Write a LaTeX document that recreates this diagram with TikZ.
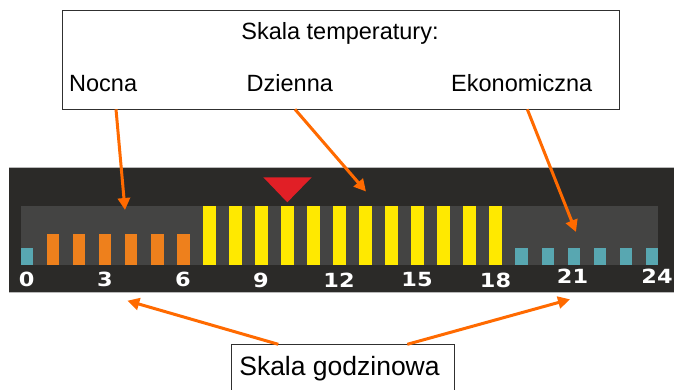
\documentclass[tikz,border=0pt]{standalone}
\usepackage{fontspec}
\usepackage{graphicx}
\setmainfont{Liberation Sans}
\newfontfamily\numfont{DejaVu Sans}
\usetikzlibrary{arrows.meta}
\definecolor{panelc}{HTML}{2B2A28}
\definecolor{innerc}{HTML}{444443}
\definecolor{barorange}{HTML}{EE801C}
\definecolor{baryellow}{HTML}{FFE900}
\definecolor{barcyan}{HTML}{58A7B1}
\definecolor{markc}{HTML}{E11F26}
\definecolor{arrowc}{HTML}{FF6A00}
\definecolor{boxline}{HTML}{303030}
\newcommand{\hnum}[1]{\scalebox{1.15}[1]{#1}}
\tikzset{
  labelbox/.style={draw=boxline, line width=1pt, inner sep=0pt},
  lbl/.style={inner sep=0pt, font=\fontsize{23.5}{28}\selectfont},
  num/.style={inner sep=0pt, text=white, font=\numfont\bfseries\fontsize{19.5}{22}\selectfont},
  arr/.style={draw=arrowc, line width=3pt, -{Triangle[length=12pt,width=12pt]}},
}
\begin{document}
\begin{tikzpicture}[x=1pt,y=-1pt]
\useasboundingbox (0,0) rectangle (674,389);
\fill[white] (0,0) rectangle (674,389);
% panel
\fill[panelc] (9,167) rectangle (674,293);
\draw[gray!55, line width=0.8pt] (9,167.4) -- (674,167.4);
\draw[gray!55, line width=0.8pt] (9,292.8) -- (674,292.8);
\fill[innerc] (21,206) rectangle (658,265);
% bars
\foreach \i in {0,...,24}{
  \pgfmathsetmacro{\xl}{20.7+26.04*\i}
  \ifnum\i=0
    \fill[barcyan] (\xl,248.3) rectangle ++(12.6,16.7);
  \else\ifnum\i<7
    \fill[barorange] (\xl,234.3) rectangle ++(12.6,30.7);
  \else\ifnum\i<19
    \fill[baryellow] (\xl,206) rectangle ++(12.6,59);
  \else
    \fill[barcyan] (\xl,248.3) rectangle ++(12.6,16.7);
  \fi\fi\fi
}
% red marker
\fill[markc] (263.3,177.3) -- (311.7,177.3) -- (287.3,202.3) -- cycle;
% hour numbers
\node[num] (n0) at (26.7,279.5) {\hnum{0}};
\node[num] (n3) at (105,279.5) {\hnum{3}};
\node[num] (n6) at (183,279.5) {\hnum{6}};
\node[num] (n9) at (261,280) {\hnum{9}};
\node[num] (n12) at (339,280) {\hnum{12}};
\node[num] (n15) at (417,280) {\hnum{15}};
\node[num] (n18) at (495.5,280.3) {\hnum{18}};
\node[num] (n21) at (572.5,275.8) {\hnum{21}};
\node[num] (n24) at (657,275.8) {\hnum{24}};
% top box
\node[labelbox, minimum width=557.3pt, minimum height=98.6pt] (tbox) at (340.65,60) {};
\node[lbl, anchor=base] (title) at (340,39.3) {Skala temperatury:};
\node[lbl, anchor=base west] (nocna) at (69,91.7) {Nocna};
\node[lbl, anchor=base west] (dzienna) at (246.5,91.7) {Dzienna};
\node[lbl, anchor=base west] (ekon) at (451,91.7) {Ekonomiczna};
% bottom box
\node[labelbox, minimum width=223.3pt, minimum height=60pt, anchor=north west] (bbox) at (230.7,344.3) {};
\node[inner sep=0pt, anchor=base, font=\fontsize{26.5}{30}\selectfont] (godz) at (339.5,375) {Skala godzinowa};
% arrow coordinates
\coordinate (s1) at (116,109.3);
\coordinate (e1) at (125,210);
\coordinate (s2) at (295,109.3);
\coordinate (e2) at (366,191.5);
\coordinate (s3) at (527.3,109.3);
\coordinate (e3) at (576,232);
\coordinate (s4) at (278.3,344.3);
\coordinate (e4) at (127.3,300.7);
\coordinate (s5) at (407.3,344.3);
\coordinate (e5) at (570,299.3);
\draw[arr] (s1) -- (e1);
\draw[arr] (s2) -- (e2);
\draw[arr] (s3) -- (e3);
\draw[arr] (s4) -- (e4);
\draw[arr] (s5) -- (e5);
\end{tikzpicture}
\end{document}
